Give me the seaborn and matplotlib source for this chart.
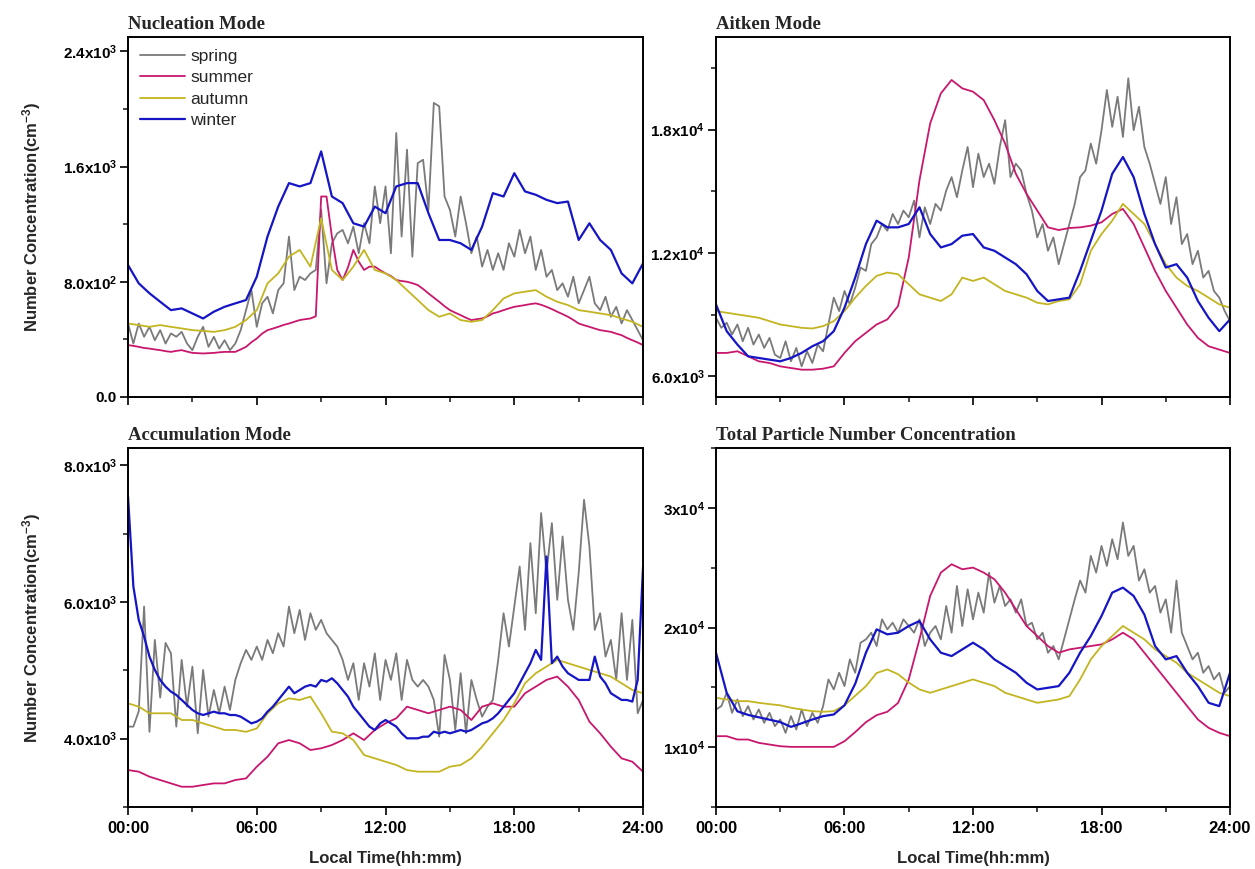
import numpy as np
import pandas as pd
import matplotlib
matplotlib.use("Agg")
import matplotlib.pyplot as plt
from matplotlib.ticker import FixedLocator, MultipleLocator
import seaborn as sns

# ---------------------------------------------------------------------------
# Diurnal number concentrations (cm^-3). Series with 97 values are at 15-min
# steps, series with 49 values at 30-min steps; each runs 00:00 -> 24:00.
# ---------------------------------------------------------------------------
seasons = ["spring", "summer", "autumn", "winter"]

# Nucleation mode
nuc_spring = [
    510, 371, 510, 418, 487, 394, 464, 371, 441, 418, 452, 371,
    325, 418, 487, 348, 418, 336, 394, 325, 371, 464, 603, 742,
    487, 650, 696, 580, 742, 789, 1114, 742, 835, 812, 858, 882,
    1300, 789, 1067, 1136, 1160, 1067, 1183, 998, 1206, 1067, 1462, 1206,
    1462, 998, 1833, 1114, 1717, 974, 1624, 1647, 1299, 2042, 2018, 1392,
    1299, 1114, 1392, 1206, 998, 1114, 905, 1021, 882, 998, 882, 1067,
    974, 1160, 998, 1114, 882, 1021, 835, 882, 742, 789, 696, 835,
    650, 742, 835, 650, 603, 696, 557, 626, 510, 603, 534, 464,
    394]
nuc_summer = [
    360, 355, 348, 340, 336, 330, 325, 318, 313, 320, 325, 315,
    306, 304, 302, 304, 306, 310, 313, 313, 313, 330, 348, 380,
    406, 440, 464, 475, 487, 500, 510, 522, 534, 540, 545, 560,
    1392, 1392, 1113, 882, 812, 900, 1021, 940, 882, 905, 905, 880,
    858, 840, 812, 805, 800, 790, 777, 750, 719, 690, 661, 630,
    603, 585, 568, 550, 534, 540, 545, 560, 580, 590, 603, 615,
    626, 632, 638, 645, 650, 640, 626, 610, 592, 575, 557, 535,
    510, 498, 487, 475, 464, 458, 452, 440, 429, 410, 394, 378,
    360]
nuc_autumn = [
    510, 499, 487, 499, 487, 476, 464, 459, 452, 464, 487, 534,
    603, 789, 858, 974, 1021, 905, 1241, 882, 812, 905, 1021, 882,
    858, 812, 742, 673, 603, 557, 580, 534, 522, 534, 603, 684,
    719, 731, 742, 696, 661, 638, 603, 592, 580, 568, 545, 522,
    487]
nuc_winter = [
    916, 789, 720, 661, 603, 615, 580, 545, 592, 626, 650, 673,
    835, 1114, 1322, 1485, 1462, 1485, 1705, 1392, 1346, 1206, 1183, 1322,
    1276, 1462, 1485, 1485, 1276, 1090, 1090, 1067, 1021, 1183, 1415, 1392,
    1554, 1427, 1404, 1369, 1346, 1357, 1090, 1206, 1090, 1021, 858, 789,
    928]

# Aitken mode
ait_spring = [
    8849, 8361, 8605, 8035, 8523, 7709, 8361, 7547, 8035, 7384, 7872, 7058,
    6895, 7709, 6733, 7384, 6488, 7221, 6651, 7547, 7221, 8523, 9826, 9175,
    10151, 9500, 10314, 11291, 11128, 12431, 12756, 13407, 13082, 13896, 13407, 14059,
    13733, 14547, 12756, 14221, 13407, 14384, 14059, 15035, 15687, 14710, 16012, 17152,
    15198, 16826, 15687, 16338, 15361, 17152, 18454, 15687, 16338, 16012, 14873, 14059,
    12756, 13407, 12105, 12756, 11454, 12431, 13407, 14384, 15687, 16012, 17315, 16338,
    17966, 19919, 18128, 19594, 17640, 20489, 17966, 19106, 17152, 16338, 15361, 14384,
    15687, 13407, 14710, 12431, 12919, 11454, 12105, 10803, 11128, 10151, 9826, 9175,
    8686]
ait_summer = [
    7140, 7140, 7221, 6977, 6733, 6651, 6488, 6407, 6326, 6326, 6374, 6488,
    7140, 7709, 8116, 8523, 8768, 9419, 11779, 15524, 18291, 19757, 20408, 20000,
    19838, 19431, 18454, 17315, 15849, 14873, 14059, 13245, 13114, 13212, 13245, 13326,
    13489, 13896, 14140, 13407, 12268, 11128, 10151, 9337, 8523, 7872, 7465, 7302,
    7140]
ait_autumn = [
    9175, 9093, 9012, 8930, 8849, 8686, 8523, 8442, 8361, 8328, 8442, 8686,
    9175, 9826, 10396, 10884, 11047, 10966, 10477, 9989, 9826, 9663, 9989, 10803,
    10640, 10803, 10477, 10151, 9989, 9826, 9582, 9500, 9663, 9745, 10477, 12105,
    12919, 13570, 14384, 13896, 13407, 12431, 11454, 10803, 10396, 10151, 9826, 9500,
    9337]
ait_winter = [
    9500, 8198, 7547, 6977, 6895, 6814, 6733, 6895, 7140, 7465, 7709, 8198,
    9337, 10803, 12431, 13570, 13245, 13245, 13407, 14221, 12919, 12268, 12431, 12838,
    12919, 12268, 12105, 11779, 11454, 10966, 10151, 9663, 9745, 9826, 11128, 12593,
    14059, 15849, 16663, 15687, 13896, 12431, 11291, 11454, 10803, 9663, 8849, 8198,
    8768]

# Accumulation mode
acc_spring = [
    4176, 4176, 4400, 5932, 4100, 5444, 4600, 5400, 5249, 4176, 5152, 4468,
    5054, 4078, 5005, 4322, 4712, 4371, 4761, 4420, 4859, 5103, 5298, 5152,
    5347, 5152, 5444, 5249, 5542, 5347, 5932, 5542, 5883, 5444, 5835, 5591,
    5737, 5542, 5444, 5347, 5152, 4859, 5103, 4566, 5103, 4761, 5249, 4566,
    5152, 4859, 5249, 4566, 5152, 4859, 4761, 4859, 4761, 4566, 4029, 5225,
    4859, 4127, 4957, 4078, 4859, 4566, 4322, 4468, 4566, 5152, 5835, 5347,
    5932, 6518, 5591, 6859, 5835, 7299, 6420, 7152, 6030, 6957, 6030, 5591,
    6420, 7494, 6810, 5591, 5835, 5200, 5444, 4859, 5835, 4859, 5737, 4371,
    4566]
acc_summer = [
    3541, 3517, 3444, 3395, 3346, 3297, 3297, 3322, 3346, 3346, 3395, 3419,
    3590, 3736, 3932, 3980, 3932, 3834, 3859, 3907, 3980, 4078, 3980, 4127,
    4224, 4298, 4468, 4420, 4371, 4420, 4468, 4420, 4273, 4468, 4517, 4468,
    4468, 4664, 4761, 4859, 4908, 4761, 4566, 4249, 4078, 3883, 3712, 3663,
    3517]
acc_autumn = [
    4517, 4468, 4371, 4371, 4371, 4273, 4273, 4224, 4176, 4127, 4127, 4100,
    4150, 4371, 4517, 4590, 4566, 4615, 4371, 4102, 4078, 3980, 3761, 3712,
    3663, 3615, 3541, 3517, 3517, 3517, 3590, 3615, 3712, 3883, 4078, 4273,
    4517, 4810, 4957, 5054, 5152, 5103, 5054, 5005, 4957, 4908, 4810, 4712,
    4664]
acc_winter = [
    7543, 6225, 5737, 5493, 5200, 5005, 4859, 4761, 4688, 4639, 4566, 4493,
    4420, 4371, 4346, 4371, 4395, 4371, 4371, 4346, 4346, 4322, 4273, 4224,
    4249, 4298, 4395, 4468, 4566, 4664, 4761, 4664, 4712, 4761, 4786, 4761,
    4859, 4834, 4883, 4810, 4712, 4615, 4468, 4371, 4273, 4176, 4127, 4224,
    4273, 4224, 4176, 4078, 4005, 4005, 4005, 4029, 4029, 4102, 4078, 4102,
    4078, 4102, 4127, 4102, 4127, 4176, 4224, 4249, 4298, 4371, 4468, 4566,
    4664, 4810, 4957, 5103, 5298, 5152, 6664, 5103, 5200, 5054, 4957, 4908,
    4859, 4859, 4859, 5200, 4908, 4810, 4664, 4615, 4566, 4566, 4542, 4859,
    6518]

# Total particle number concentration
tot_spring = [
    13153, 13432, 14548, 12874, 13990, 12595, 13432, 12316, 13153, 12037, 12874, 11758,
    12316, 11200, 12595, 11479, 13153, 11758, 12874, 12037, 13432, 15664, 14827, 16222,
    15106, 17338, 16222, 18733, 19012, 19570, 18454, 20686, 19849, 20407, 19570, 20686,
    20128, 19570, 20686, 18454, 19570, 20128, 19012, 21801, 19570, 23476, 20128, 23197,
    20686, 22918, 21244, 24592, 22081, 23476, 21801, 22360, 21244, 22360, 20128, 20407,
    19012, 19570, 17896, 18454, 17338, 19012, 20686, 22360, 23931, 22918, 25987, 24592,
    26824, 25150, 27382, 25708, 28777, 25987, 26824, 23931, 24871, 22918, 23476, 21244,
    22360, 19570, 23931, 19570, 18454, 17338, 17896, 16222, 16780, 15664, 16222, 14548,
    15106]
tot_summer = [
    10921, 10921, 10642, 10642, 10363, 10223, 10084, 10028, 10028, 10028, 10028, 10028,
    10500, 11260, 12090, 12680, 12960, 13700, 15664, 19012, 22639, 24592, 25289, 24871,
    25010, 24592, 24034, 22918, 21523, 20128, 19291, 18454, 17896, 18175, 18314, 18454,
    18593, 19012, 19570, 19012, 17896, 16780, 15664, 14548, 13432, 12316, 11618, 11200,
    10921]
tot_autumn = [
    14129, 13990, 13850, 13850, 13711, 13600, 13500, 13300, 13150, 13013, 12960, 13013,
    13500, 14300, 15100, 16200, 16500, 16100, 15400, 14830, 14548, 14827, 15106, 15385,
    15664, 15385, 15106, 14548, 14269, 13990, 13711, 13850, 13990, 14269, 15664, 17338,
    18454, 19291, 20128, 19570, 19012, 18175, 17617, 17059, 16222, 15664, 15106, 14548,
    14269]
tot_winter = [
    17896, 14548, 13000, 12700, 12500, 12300, 12100, 11700, 12000, 12316, 12595, 12734,
    13500, 15300, 17896, 19849, 19431, 19570, 20128, 20546, 19012, 17896, 17617, 18175,
    18733, 18175, 17338, 16780, 16222, 15385, 14827, 14966, 15106, 16222, 17896, 19291,
    20965, 22918, 23337, 22639, 21090, 18454, 17338, 17617, 16222, 15106, 13711, 13432,
    16222]

panel_titles = ["Nucleation Mode", "Aitken Mode",
                "Accumulation Mode", "Total Particle Number Concentration"]
panel_series = [
    [nuc_spring, nuc_summer, nuc_autumn, nuc_winter],
    [ait_spring, ait_summer, ait_autumn, ait_winter],
    [acc_spring, acc_summer, acc_autumn, acc_winter],
    [tot_spring, tot_summer, tot_autumn, tot_winter],
]

# Axis ticks and their labels
x_ticks = [0, 6, 12, 18, 24]
x_ticklabels = ["00:00", "06:00", "12:00", "18:00", "24:00"]
y_ticks = [
    [0, 800, 1600, 2400],
    [6000, 12000, 18000],
    [4000, 6000, 8000],
    [10000, 20000, 30000],
]
y_ticklabels = [
    ["0.0", r"8.0x10$^{2}$", r"1.6x10$^{3}$", r"2.4x10$^{3}$"],
    [r"6.0x10$^{3}$", r"1.2x10$^{4}$", r"1.8x10$^{4}$"],
    [r"4.0x10$^{3}$", r"6.0x10$^{3}$", r"8.0x10$^{3}$"],
    [r"1x10$^{4}$", r"2x10$^{4}$", r"3x10$^{4}$"],
]
y_minor = [
    [400, 1200, 2000],
    [9000, 15000, 21000],
    [3000, 5000, 7000],
    [5000, 15000, 25000, 35000],
]
y_limits = [(0, 2500), (5000, 22500), (3000, 8250), (5000, 35000)]

# ---------------------------------------------------------------------------
sns.set_style("ticks")
plt.rcParams["font.family"] = ["Liberation Sans", "DejaVu Sans"]
plt.rcParams["mathtext.default"] = "regular"

palette = {"spring": "#7a7a7a", "summer": "#c8176d",
           "autumn": "#c3b521", "winter": "#1515c6"}
widths = {"spring": 1.3, "summer": 1.3, "autumn": 1.3, "winter": 1.6}

fig = plt.figure(figsize=(12.55, 8.69), dpi=100)
positions = [
    [0.1020, 0.5432, 0.4104, 0.4143],
    [0.5705, 0.5432, 0.4096, 0.4143],
    [0.1020, 0.0713, 0.4104, 0.4131],
    [0.5705, 0.0713, 0.4096, 0.4131],
]

for i, (pos, series) in enumerate(zip(positions, panel_series)):
    ax = fig.add_axes(pos)
    frames = []
    for season, vals in zip(seasons, series):
        frames.append(pd.DataFrame({
            "hour": np.linspace(0, 24, len(vals)),
            "value": vals,
            "season": season,
        }))
    df = pd.concat(frames, ignore_index=True)
    for season in seasons:
        sns.lineplot(data=df[df["season"] == season], x="hour", y="value",
                     color=palette[season], linewidth=widths[season],
                     estimator=None, sort=False, label=season, ax=ax,
                     legend=(i == 0))

    ax.set_xlim(0, 24)
    ax.set_ylim(*y_limits[i])
    ax.xaxis.set_major_locator(FixedLocator(x_ticks))
    ax.xaxis.set_minor_locator(MultipleLocator(3))
    ax.yaxis.set_major_locator(FixedLocator(y_ticks[i]))
    ax.yaxis.set_minor_locator(FixedLocator(y_minor[i]))
    ax.set_yticklabels(y_ticklabels[i], fontweight="bold", fontsize=11)

    if i >= 2:
        ax.set_xticklabels(x_ticklabels, fontweight="bold", fontsize=12)
        ax.set_xlabel("Local Time(hh:mm)", fontweight="bold", fontsize=12,
                      labelpad=11)
    else:
        ax.set_xticklabels([])
        ax.set_xlabel("")

    if i % 2 == 0:
        ax.set_ylabel(r"Number Concentration(cm$^{-3}$)", fontweight="bold",
                      fontsize=12)
        ax.yaxis.set_label_coords(-0.165, 0.5)
    else:
        ax.set_ylabel("")

    ax.set_title(panel_titles[i], loc="left", fontsize=13.5,
                 fontweight="bold", family="Liberation Serif", pad=6)

    for side in ["top", "right", "left", "bottom"]:
        ax.spines[side].set_visible(True)
        ax.spines[side].set_linewidth(1.4)
        ax.spines[side].set_color("black")
    ax.tick_params(axis="both", which="major", direction="out", length=6,
                   width=1.2, pad=2, colors="black", top=False, right=False)
    ax.tick_params(axis="both", which="minor", direction="out", length=3.5,
                   width=1.2, top=False, right=False)
    ax.tick_params(axis="x", which="major", pad=4)

    if i == 0:
        handles, labels = ax.get_legend_handles_labels()
        ax.legend(handles, labels, loc="upper left", frameon=False,
                  fontsize=12.5, handlelength=2.6, handletextpad=0.3,
                  labelspacing=0.35, borderaxespad=0.3,
                  bbox_to_anchor=(0.0, 1.0))

fig.savefig("out.png", dpi=100)
